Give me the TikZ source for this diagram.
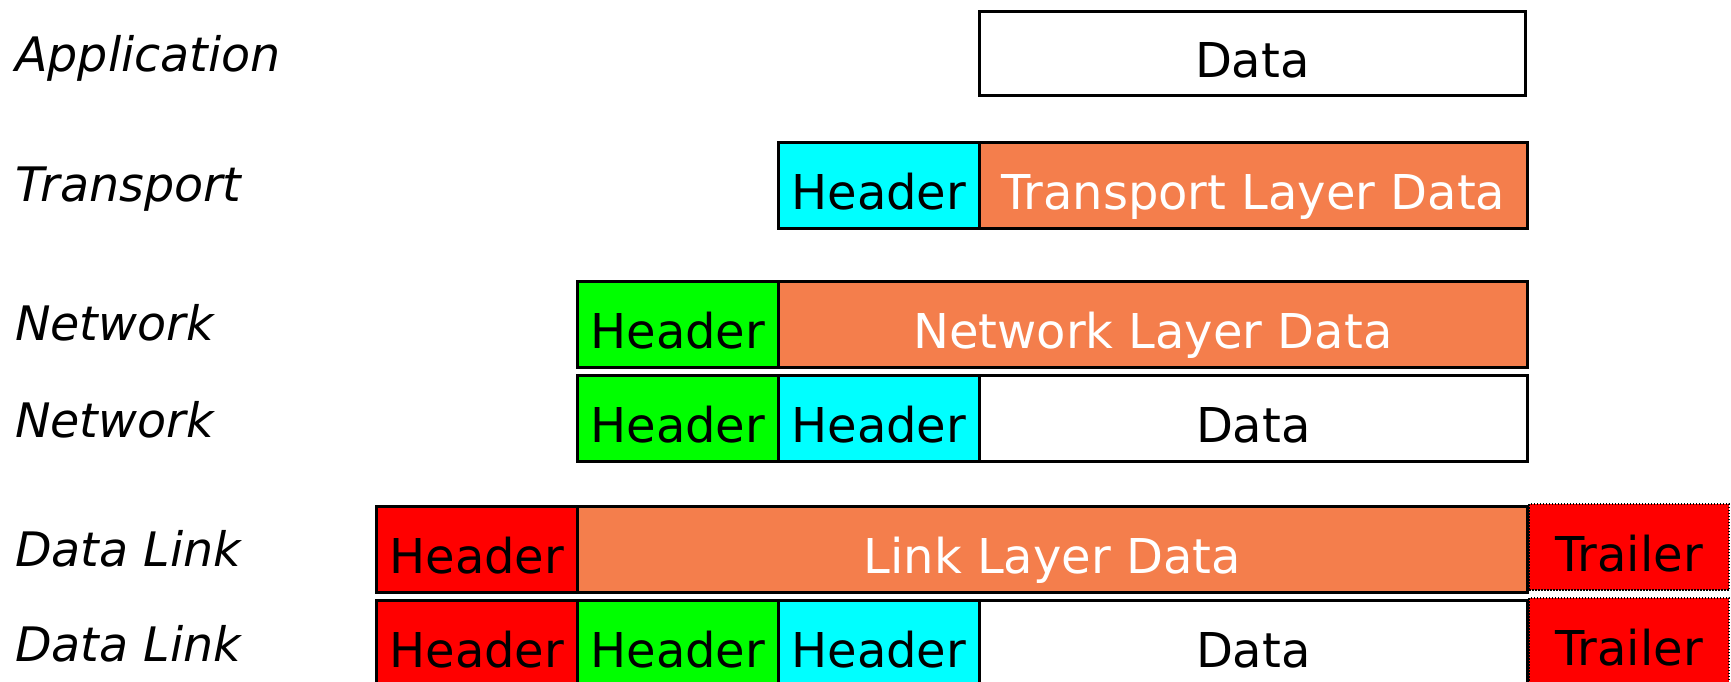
\documentclass[tikz,border=0pt]{standalone}
\usepackage{fontspec}
\setmainfont{DejaVu Sans}
\definecolor{orangec}{HTML}{F47E4C}
\definecolor{cyanc}{HTML}{00FFFF}
\definecolor{greenc}{HTML}{00FF00}
\definecolor{redc}{HTML}{FF0000}
\begin{document}
\begin{tikzpicture}[x=1pt,y=-1pt,
  cell/.style={draw=black, line width=2.6pt, rectangle, anchor=north west, inner sep=0pt,
    minimum height=86pt, text height=48pt, text depth=0pt,
    font=\fontsize{48}{57}\selectfont},
  hdr/.style={cell, minimum width=201pt},
  trailerbox/.style={cell, fill=redc, draw=black, line width=2pt, dash pattern=on 1.5pt off 1.5pt, minimum width=200pt},
  layerlabel/.style={anchor=base west, inner sep=0pt, font=\fontsize{47.5}{57}\selectfont\itshape}
]
\useasboundingbox (0,0) rectangle (1731,682);
\fill[white] (0,0) rectangle (1731,682);

% labels
\node[layerlabel] (lapp) at (15,72) {Application};
\node[layerlabel] (ltr) at (15,201) {Transport};
\node[layerlabel] (lnet1) at (15,340) {Network};
\node[layerlabel] (lnet2) at (15,437) {Network};
\node[layerlabel] (ldl1) at (15,566) {Data Link};
\node[layerlabel] (ldl2) at (15,661) {Data Link};

% application
\node[cell, fill=white, minimum width=546pt, minimum height=84pt] (appdata) at (978,10) {Data};

% transport
\node[hdr, fill=cyanc] (trh) at (777,141) {Header};
\node[cell, fill=orangec, text=white, minimum width=548pt] (trd) at (978,141) {Transport Layer Data};

% network 1
\node[hdr, fill=greenc] (n1h) at (576,280) {Header};
\node[cell, fill=orangec, text=white, minimum width=749pt] (n1d) at (777,280) {Network Layer Data};

% network 2
\node[hdr, fill=greenc] (n2h) at (576,374) {Header};
\node[hdr, fill=cyanc] (n2t) at (777,374) {Header};
\node[cell, fill=white, minimum width=548pt] (n2d) at (978,374) {Data};

% data link 1
\node[hdr, fill=redc] (d1h) at (375,505) {Header};
\node[cell, fill=orangec, text=white, minimum width=950pt] (d1d) at (576,505) {Link Layer Data};
\node[trailerbox] (d1t) at (1528,503) {Trailer};

% data link 2
\node[hdr, fill=redc] (d2h) at (375,599) {Header};
\node[hdr, fill=greenc] (d2n) at (576,599) {Header};
\node[hdr, fill=cyanc] (d2t) at (777,599) {Header};
\node[cell, fill=white, minimum width=548pt] (d2d) at (978,599) {Data};
\node[trailerbox] (d2tr) at (1528,597) {Trailer};
\end{tikzpicture}
\end{document}
